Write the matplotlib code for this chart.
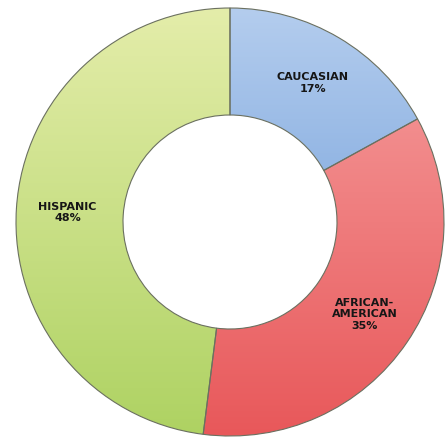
#! /usr/bin/python3
# -*- coding: utf-8 -*-

import numpy as np
import matplotlib
matplotlib.use("Agg")
import matplotlib.pyplot as plt
from matplotlib.colors import LinearSegmentedColormap


##################################
##             DATA             ##
##################################

groups = ["CAUCASIAN", "AFRICAN-\nAMERICAN", "HISPANIC"]
shares = [17, 35, 48]

# (top colour, bottom colour) of each wedge's gradient
grad_colors = [("#b4cdee", "#5b8fd3"),
               ("#f6a0a0", "#e8585a"),
               ("#e4edaa", "#aed262")]


##################################
##            FIGURE            ##
##################################

W, H = 445, 439
R_PX = 214.0            # outer radius in pixels
CX, CY = 230.0, 223.0   # centre (pixels from top-left)

fig = plt.figure(figsize=(W / 100.0, H / 100.0), dpi=100)
ax = fig.add_axes([0, 0, 1, 1])

x0, x1 = -CX / R_PX, (W - CX) / R_PX
y0, y1 = -(H - CY) / R_PX, CY / R_PX
ax.set_xlim(x0, x1)
ax.set_ylim(y0, y1)
ax.set_aspect("auto")
ax.axis("off")

labels = ["%s\n%d%%" % (g, s) for g, s in zip(groups, shares)]
wedges, texts = ax.pie(shares, labels=labels, startangle=90, counterclock=False,
                       radius=1.0, center=(0, 0), labeldistance=0.76,
                       wedgeprops=dict(width=0.5, facecolor="none",
                                       edgecolor="#6b7060", linewidth=0.8),
                       textprops=dict(fontsize=8, fontweight="bold", color="#161616"),
                       frame=False)
ax.set_xlim(x0, x1)
ax.set_ylim(y0, y1)

# vertical gradient fill for each wedge
ramp = np.linspace(0, 1, 256).reshape(-1, 1)
for w, (top, bottom) in zip(wedges, grad_colors):
    cmap = LinearSegmentedColormap.from_list("g", [top, bottom])
    im = ax.imshow(ramp, cmap=cmap, aspect="auto", extent=(-1, 1, -1, 1),
                   origin="upper", zorder=0.5, interpolation="bilinear")
    im.set_clip_path(w)

for t in texts:
    t.set_ha("center")
    t.set_va("center")
    t.set_linespacing(1.15)

ax.set_xlim(x0, x1)
ax.set_ylim(y0, y1)

plt.savefig("out.png", dpi=100)
plt.close()
